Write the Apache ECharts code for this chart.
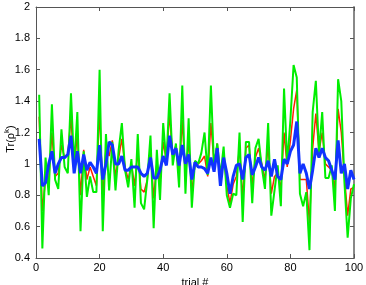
<!DOCTYPE html>
<html>
<head>
<meta charset="utf-8">
<script src="https://cdn.jsdelivr.net/npm/echarts@6/dist/echarts.min.js"></script>
<style>
  html, body { margin: 0; padding: 0; background: #fff; }
  #main { width: 366px; height: 285px; }
</style>
</head>
<body>
<div id="main"></div>
<script>
// trial numbers 1..100
var trials = [];
for (var t = 1; t <= 100; t++) trials.push(t);

var greenVals = [1.44,0.46,1.04,0.80,1.38,0.90,0.84,1.22,0.98,0.94,
                 1.45,0.98,1.33,0.57,1.08,0.79,0.92,0.82,0.82,1.60,
                 0.57,1.19,0.83,1.14,0.83,1.09,1.26,0.96,0.85,1.03,
                 0.72,1.19,0.75,0.71,0.90,1.18,0.59,1.09,0.77,1.26,
                 1.00,1.45,0.99,1.13,0.85,1.50,0.81,1.29,0.72,1.02,
                 1.00,1.07,1.20,0.93,1.50,0.98,1.13,0.92,1.11,0.80,
                 0.72,0.81,0.80,1.20,0.63,1.14,1.14,0.75,1.10,1.16,
                 0.98,0.84,1.26,0.67,0.83,0.99,0.73,1.48,1.00,1.28,
                 1.63,1.55,0.81,0.73,0.82,0.45,1.33,1.53,1.07,1.33,
                 0.91,0.91,0.99,0.70,1.54,1.40,0.88,0.53,0.78,0.87];

var redVals = [1.30,0.70,0.90,0.90,1.20,0.92,0.94,1.12,1.04,1.06,
               1.30,0.96,1.20,0.80,1.09,0.90,0.98,0.92,0.86,1.35,
               0.78,1.10,1.05,1.15,0.92,1.04,1.16,0.98,0.90,1.00,
               0.86,1.08,0.84,0.82,0.90,1.10,0.78,1.00,0.88,1.14,
               1.02,1.32,1.04,1.12,0.94,1.28,0.92,1.15,0.82,1.00,
               1.00,1.02,1.05,0.92,1.26,1.00,1.13,0.90,1.06,0.86,
               0.75,0.87,0.92,1.10,0.78,1.10,1.12,0.86,1.04,1.10,
               1.00,0.90,1.12,0.81,0.92,0.94,0.84,1.20,0.98,1.15,
               1.35,1.47,0.90,0.90,0.90,0.62,1.10,1.32,1.08,1.20,
               1.00,0.98,0.96,0.84,1.35,1.20,0.92,0.67,0.84,0.85];

var blueVals = [1.16,0.86,0.88,1.00,1.08,0.94,1.00,1.04,1.04,1.06,
                1.18,0.94,1.08,0.94,1.06,0.96,1.01,0.98,0.94,1.12,
                0.90,1.00,1.14,1.12,1.00,1.00,1.05,0.96,0.96,0.98,
                0.98,0.98,0.94,0.92,0.94,1.04,0.91,0.91,0.96,1.05,
                0.99,1.18,1.06,1.10,0.99,1.12,1.00,1.06,0.90,1.01,
                0.98,0.98,0.97,0.94,1.04,0.95,1.10,0.86,1.04,0.94,
                0.81,0.92,0.99,1.00,0.90,1.04,1.06,0.93,0.98,1.04,
                0.98,0.96,1.02,0.92,1.03,0.92,0.90,1.03,1.00,1.08,
                1.12,1.27,0.94,1.00,0.94,0.84,0.96,1.10,1.04,1.10,
                1.04,1.02,0.96,0.90,1.15,0.94,1.00,0.84,0.96,0.90];

var xTicks = [0, 20, 40, 60, 80, 100];
var yTicks = [0.4, 0.6, 0.8, 1, 1.2, 1.4, 1.6, 1.8, 2];

function pairs(vals) {
  var out = [];
  for (var i = 0; i < vals.length; i++) out.push([trials[i], vals[i]]);
  return out;
}

var font = 'Liberation Sans, Arial, sans-serif';
var axisCol = '#555';

var myChart = echarts.init(document.getElementById('main'));

var option = {
  animation: false,
  backgroundColor: '#fff',
  grid: { left: 36, right: 12, top: 7, bottom: 27, show: false,
          containLabel: false, outerBoundsMode: 'none' },
  xAxis: [{
    type: 'value', min: xTicks[0], max: xTicks[xTicks.length - 1], interval: 20,
    position: 'bottom',
    axisLine: { show: true, onZero: false, lineStyle: { color: axisCol, width: 1 } },
    axisTick: { show: true, inside: true, length: 4, lineStyle: { color: axisCol } },
    axisLabel: { color: '#000', fontSize: 11, fontFamily: font, margin: 4 },
    splitLine: { show: false },
    name: 'trial #', nameLocation: 'middle', nameGap: 19,
    nameTextStyle: { color: '#000', fontSize: 11, fontFamily: font }
  }, {
    type: 'value', min: 0, max: 100, interval: 20, position: 'top',
    axisLine: { show: true, onZero: false, lineStyle: { color: axisCol, width: 1 } },
    axisTick: { show: true, inside: true, length: 4, lineStyle: { color: axisCol } },
    axisLabel: { show: false }, splitLine: { show: false }
  }],
  yAxis: [{
    type: 'value', min: yTicks[0], max: yTicks[yTicks.length - 1], interval: 0.2,
    position: 'left',
    axisLine: { show: true, onZero: false, lineStyle: { color: axisCol, width: 1 } },
    axisTick: { show: true, inside: true, length: 4, lineStyle: { color: axisCol } },
    axisLabel: {
      color: '#000', fontSize: 11, fontFamily: font, margin: 6,
      formatter: function (v) { return String(Math.round(v * 10) / 10); }
    },
    splitLine: { show: false }
  }, {
    type: 'value', min: 0.4, max: 2, interval: 0.2, position: 'right',
    axisLine: { show: true, onZero: false, lineStyle: { color: '#888', width: 2 } },
    axisTick: { show: true, inside: true, length: 4, lineStyle: { color: axisCol } },
    axisLabel: { show: false }, splitLine: { show: false }
  }],
  graphic: [{
    type: 'text',
    x: 11, y: 139,
    rotation: Math.PI / 2,
    style: {
      text: '{a|Tr(ρ}{s|k}{a|)}',
      align: 'center', verticalAlign: 'middle',
      rich: {
        a: { fontSize: 11, fontFamily: font, fill: '#000' },
        s: { fontSize: 8, fontFamily: font, fill: '#000', verticalAlign: 'top', padding: [0, 0, 8, 0] }
      }
    }
  }],
  series: [{
    name: 'red', type: 'line', data: pairs(redVals), showSymbol: false,
    lineStyle: { color: '#ff2200', width: 1.5 }, z: 2
  }, {
    name: 'green', type: 'line', data: pairs(greenVals), showSymbol: false,
    lineStyle: { color: '#00ee00', width: 2 }, z: 3
  }, {
    name: 'blue', type: 'line', data: pairs(blueVals), showSymbol: false,
    lineStyle: { color: '#1133ff', width: 3 }, z: 4
  }]
};
myChart.setOption(option);
</script>
</body>
</html>
